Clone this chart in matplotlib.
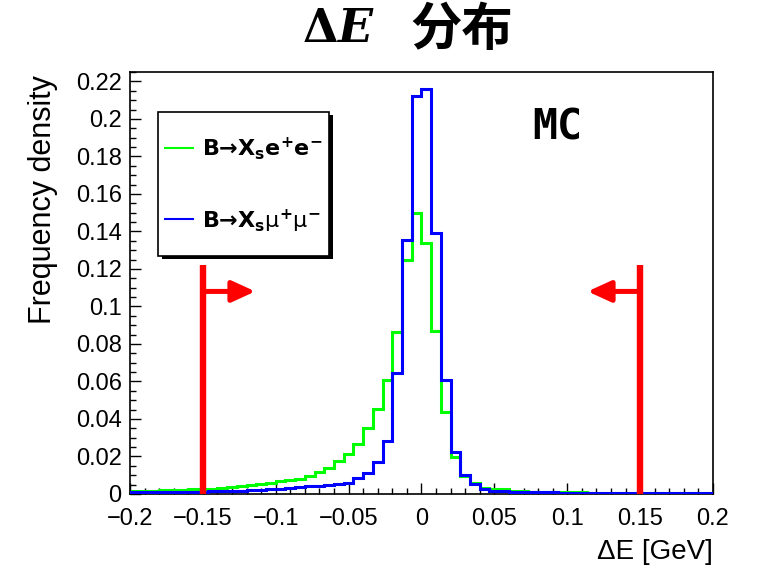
import numpy as np
import matplotlib
matplotlib.use('Agg')
import matplotlib.pyplot as plt
from matplotlib.patches import Rectangle
from matplotlib.lines import Line2D
from matplotlib.ticker import MultipleLocator, FuncFormatter

plt.rcParams['font.family'] = ['Liberation Sans', 'DejaVu Sans']

# Delta E histograms, 60 bins on [-0.2, 0.2] GeV, normalised to frequency density
n_bins = 60
de_lo, de_hi = -0.2, 0.2

dens_ee = [0.0015, 0.0016, 0.0017, 0.0019, 0.0021, 0.0023, 0.0025, 0.0027, 0.0028, 0.0031,
           0.0035, 0.0040, 0.0046, 0.0055, 0.0061, 0.0069, 0.0076, 0.0080, 0.0096, 0.0116,
           0.0137, 0.0178, 0.0215, 0.0265, 0.0350, 0.0452, 0.0610, 0.0866, 0.1248, 0.1497,
           0.1340, 0.0869, 0.0439, 0.0197, 0.0098, 0.0060, 0.0030, 0.0025, 0.0024, 0.0018,
           0.0017, 0.0013, 0.0011, 0.0010, 0.0009, 0.0008, 0.0008, 0.0007, 0.0007, 0.0006,
           0.0006, 0.0006, 0.0005, 0.0005, 0.0005, 0.0004, 0.0004, 0.0004, 0.0004, 0.0004]

dens_mumu = [0.0008, 0.0008, 0.0009, 0.0010, 0.0010, 0.0011, 0.0012, 0.0013, 0.0014, 0.0015,
             0.0016, 0.0018, 0.0020, 0.0022, 0.0025, 0.0029, 0.0033, 0.0036, 0.0040, 0.0045,
             0.0049, 0.0053, 0.0060, 0.0087, 0.0110, 0.0170, 0.0284, 0.0644, 0.1355, 0.2123,
             0.2160, 0.1390, 0.0608, 0.0224, 0.0100, 0.0055, 0.0025, 0.0016, 0.0015, 0.0011,
             0.0011, 0.0010, 0.0009, 0.0008, 0.0007, 0.0007, 0.0006, 0.0006, 0.0005, 0.0005,
             0.0005, 0.0004, 0.0004, 0.0004, 0.0004, 0.0003, 0.0003, 0.0003, 0.0003, 0.0003]

label_ee = 'B\u2192X$_\\mathbf{s}$e$^\\mathbf{+}$e$^\\mathbf{-}$'
label_mumu = 'B\u2192X$_\\mathbf{s}$$\\mathrm{\\mu}^\\mathbf{+}\\mathrm{\\mu}^\\mathbf{-}$'

# signal window cuts
cut_lo, cut_hi = -0.15, 0.15
cut_height = 0.122
arrow_y = 0.108
arrow_len = 0.036

green = '#00ff00'
blue = '#0000ff'
red = '#ff0000'


def fmt_tick(v, pos):
    s = '%g' % round(v, 4)
    if s == '-0':
        s = '0'
    return s.replace('-', '\u2212')


fig = plt.figure(figsize=(7.58, 5.71), dpi=100)
ax = fig.add_axes([0.1715, 0.1349, 0.7691, 0.7390])

edges = np.linspace(de_lo, de_hi, n_bins + 1)
ax.stairs(dens_ee, edges, color=green, lw=2.2, zorder=2)
ax.stairs(dens_mumu, edges, color=blue, lw=2.2, zorder=3)

# cut lines with arrows pointing into the window
for xc, sign in [(cut_lo, 1), (cut_hi, -1)]:
    ax.plot([xc, xc], [0, cut_height], color=red, lw=4.6, solid_capstyle='butt', zorder=4)
    ax.annotate('', xy=(xc + sign * arrow_len, arrow_y), xytext=(xc, arrow_y),
                arrowprops=dict(arrowstyle='-|>,head_length=0.7,head_width=0.32',
                                color=red, lw=3.6, mutation_scale=20,
                                shrinkA=0, shrinkB=0), zorder=4)

ax.set_xlim(de_lo, de_hi)
ax.set_ylim(0, 0.225)

ax.xaxis.set_major_locator(MultipleLocator(0.05))
ax.xaxis.set_minor_locator(MultipleLocator(0.01))
ax.yaxis.set_major_locator(MultipleLocator(0.02))
ax.yaxis.set_minor_locator(MultipleLocator(0.005))
ax.xaxis.set_major_formatter(FuncFormatter(fmt_tick))
ax.yaxis.set_major_formatter(FuncFormatter(fmt_tick))
ax.tick_params(which='both', direction='in', top=False, right=False, labelsize=17, width=1)
ax.tick_params(which='major', length=8)
ax.tick_params(which='minor', length=4)
ax.tick_params(axis='x', which='major', pad=10)
ax.tick_params(axis='y', which='major', pad=6)
for sp in ax.spines.values():
    sp.set_linewidth(1.2)

ax.set_xlabel('\u0394E [GeV]', fontsize=20, ha='right', va='center')
ax.xaxis.set_label_coords(1.0, -0.138)
ax.set_ylabel('Frequency density', fontsize=22, ha='right', va='center')
ax.yaxis.set_label_coords(-0.149, 0.993)

# legend box with drop shadow
ax.add_patch(Rectangle((0.055, 0.556), 0.293, 0.341, transform=ax.transAxes,
                       facecolor='black', edgecolor='none', zorder=5))
ax.add_patch(Rectangle((0.048, 0.564), 0.293, 0.341, transform=ax.transAxes,
                       facecolor='white', edgecolor='black', lw=1.2, zorder=6))
for yl, yt, col, lab in [(0.820, 0.801, green, label_ee), (0.652, 0.631, blue, label_mumu)]:
    ax.add_line(Line2D([0.060, 0.108], [yl, yl], transform=ax.transAxes,
                       color=col, lw=1.5, zorder=7))
    ax.text(0.1235, yt, lab, transform=ax.transAxes, fontsize=16, fontweight='bold',
            family='DejaVu Sans', math_fontfamily='dejavusans',
            ha='left', va='baseline', zorder=7)

fig.text(0.735, 0.776, 'MC', fontsize=30, fontweight='bold',
         family='DejaVu Sans Mono', ha='center', va='center')

# title: upright bold Delta, bold italic E, then the CJK word
title_y = 0.949
t_e = fig.text(0.491, title_y, 'E', fontsize=33, fontweight='bold', fontstyle='italic',
               family='DejaVu Serif', ha='right', va='center')
fig.canvas.draw()
e_left = t_e.get_window_extent().x0 / fig.bbox.width
fig.text(e_left + 0.002, title_y, '\u0394', fontsize=33, fontweight='bold',
         family='DejaVu Serif', ha='right', va='center')
fig.text(0.541, title_y, '分布', fontsize=37, fontweight='bold',
         family=['Noto Sans CJK SC', 'DejaVu Sans'], ha='left', va='center')

fig.savefig('out.png', dpi=100)
